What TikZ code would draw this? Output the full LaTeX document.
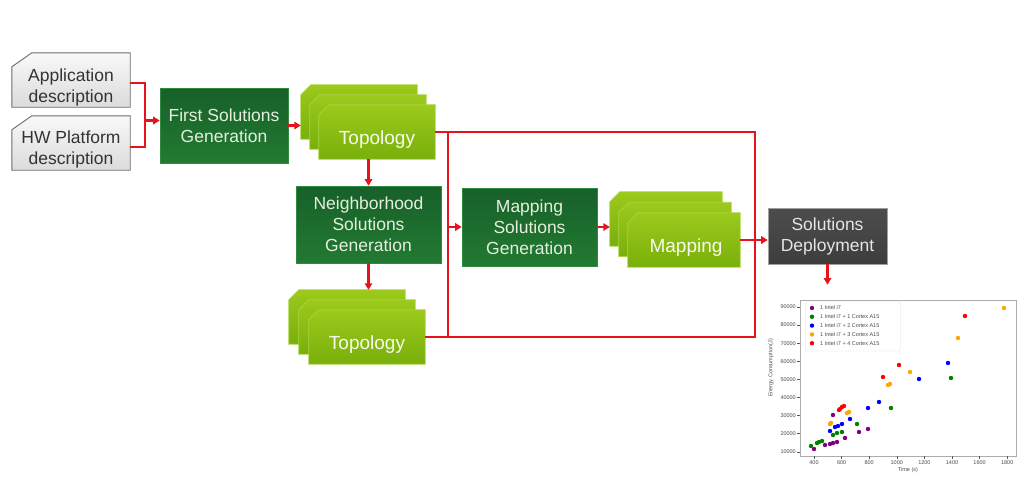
\documentclass[tikz,border=0pt]{standalone}
\usepackage{fontspec}
\setmainfont{Liberation Sans}
\usetikzlibrary{arrows.meta,calc}
\definecolor{dgA}{HTML}{17602A}
\definecolor{dgB}{HTML}{227A31}
\definecolor{dgE}{HTML}{2E8A3E}
\definecolor{lmA}{HTML}{9CCA1C}
\definecolor{lmB}{HTML}{79AF0B}
\definecolor{lmE}{HTML}{A9D443}
\definecolor{rd}{HTML}{E8121C}
\definecolor{gtx}{HTML}{E6EFDD}
\definecolor{mplpurple}{HTML}{800080}
\definecolor{mplgreen}{HTML}{008000}
\definecolor{mplblue}{HTML}{0000FF}
\definecolor{mplorange}{HTML}{FFA500}
\definecolor{mplred}{HTML}{FF0000}
\newcommand\chamferpath[4]{\path[#4] ([xshift=#2]#1.north west) -- (#1.north east) -- (#1.south east) -- (#1.south west) -- ([yshift=-#3]#1.north west) -- cycle;}
\begin{document}
\begin{tikzpicture}[x=1pt,y=-1pt,
  lbl/.style={font=\fontsize{17.5}{21}\selectfont, align=center, inner sep=0pt},
  shapeholder/.style={draw=none, fill=none, inner sep=0pt, minimum width=#1},
  greenbox/.style={draw=dgE, line width=0.6pt, top color=dgA, bottom color=dgB, text=gtx,
     font=\fontsize{17.5}{21}\selectfont, align=center, inner sep=0pt},
  docstyle/.style={draw=gray!85!black, line width=0.9pt, top color=gray!5, bottom color=gray!28},
  limestyle/.style={draw=lmE, line width=0.7pt, top color=lmA, bottom color=lmB},
  stacklbl/.style={font=\fontsize{19}{22}\selectfont, text=white!92!lmA, inner sep=0pt},
  conn/.style={draw=rd, line width=2.5pt},
  arr/.style={conn, -{Triangle[length=6.5pt,width=7.5pt]}},
  tick/.style={draw=gray!70!black, line width=0.5pt},
  ticklbl/.style={font=\fontsize{5.5}{6}\selectfont, text=gray!60!black, inner sep=1pt},
  dot/.style={circle, inner sep=0pt, minimum size=4.4pt}
]
\fill[white] (0,0) rectangle (1026,477);
\useasboundingbox (0,0) rectangle (1026,477);

% ---------- input documents ----------
\node[shapeholder=118pt, minimum height=54pt] (app) at (71,80) {};
\node[shapeholder=118pt, minimum height=54pt] (hw) at (71,143) {};
\chamferpath{app}{20pt}{14pt}{docstyle}
\chamferpath{hw}{20pt}{14pt}{docstyle}
\node[lbl, text=black!80] (apptxt) at (71,87) {Application\\description};
\node[lbl, text=black!80] (hwtxt) at (71,149) {HW Platform\\description};

% ---------- process boxes ----------
\node[greenbox, minimum width=128pt, minimum height=75pt] (fsg) at (224,125.5) {First Solutions\\Generation};
\node[greenbox, minimum width=145pt, minimum height=77pt] (nsg) at (368.5,224.5) {Neighborhood\\Solutions\\Generation};
\node[greenbox, minimum width=135pt, minimum height=78pt] (msg) at (529.5,227) {Mapping\\Solutions\\Generation};
\node[draw=gray!75, line width=0.6pt, top color=black!70, bottom color=black!76, text=white!90!black,
      font=\fontsize{17.5}{21}\selectfont, align=center, inner sep=0pt,
      minimum width=119pt, minimum height=56pt] (deploy) at (827.5,236) {Solutions\\Deployment};

% ---------- stacks ----------
% topology 1
\node[shapeholder=116pt, minimum height=54pt] (topo1c) at (359,112) {};
\node[shapeholder=116pt, minimum height=54pt] (topo1b) at (368,122) {};
\node[shapeholder=116pt, minimum height=54pt] (topo1) at (377,132) {};
\chamferpath{topo1c}{10pt}{10pt}{limestyle}
\chamferpath{topo1b}{10pt}{10pt}{limestyle}
\chamferpath{topo1}{10pt}{10pt}{limestyle}
\node[stacklbl] (topo1lbl) at ([yshift=-8pt]topo1.center) {Topology};
% topology 2
\node[shapeholder=116pt, minimum height=54pt] (topo2c) at (347,317) {};
\node[shapeholder=116pt, minimum height=54pt] (topo2b) at (357,327) {};
\node[shapeholder=116pt, minimum height=54pt] (topo2) at (367,337) {};
\chamferpath{topo2c}{10pt}{10pt}{limestyle}
\chamferpath{topo2b}{10pt}{10pt}{limestyle}
\chamferpath{topo2}{10pt}{10pt}{limestyle}
\node[stacklbl] (topo2lbl) at ([yshift=-8pt]topo2.center) {Topology};
% mapping
\node[shapeholder=112pt, minimum height=54pt] (mapc) at (666,219) {};
\node[shapeholder=112pt, minimum height=54pt] (mapb) at (675,229.5) {};
\node[shapeholder=112pt, minimum height=54pt] (map) at (684,240) {};
\chamferpath{mapc}{10pt}{10pt}{limestyle}
\chamferpath{mapb}{10pt}{10pt}{limestyle}
\chamferpath{map}{10pt}{10pt}{limestyle}
\node[stacklbl] (maplbl) at ([xshift=2pt,yshift=-8pt]map.center) {Mapping};

% ---------- connectors ----------
\coordinate (jin) at (145,0);
\coordinate (jloop) at (448,0);
\coordinate (jright) at (755,0);
\draw[conn] ([yshift=-3pt]app.east) -- ([yshift=-3pt]jin |- app.east) |- ([yshift=-4pt]hw.east);
\draw[arr] ([yshift=5pt]jin |- fsg.west) -- ([yshift=5pt]fsg.west);
\draw[arr] (fsg.east) -- (fsg.east -| topo1c.west);
\draw[arr] (nsg.north |- topo1.south) -- (nsg.north);
\draw[arr] (nsg.south) -- (nsg.south |- topo2c.north);
\draw[conn] (topo1.east) -- (jright |- topo1.east) -- (jright |- topo2.east) -- (topo2.east);
\draw[conn] (jloop |- topo1.east) -- (jloop |- topo2.east);
\draw[arr] (jloop |- msg.west) -- (msg.west);
\draw[arr] (msg.east) -- (msg.east -| mapc.west);
\draw[arr] (map.east) -- (map.east -| deploy.west);

% ---------- chart ----------
\node[draw=gray!65, line width=0.8pt, fill=white, inner sep=0pt, minimum width=216pt, minimum height=156pt] (chart) at (908,378) {};
\draw[arr] (deploy.south) -- ([yshift=15pt]deploy.south |- chart.north);
\foreach \v [count=\k from 0] in {90000,80000,70000,60000,50000,40000,30000,20000,10000} {
  \draw[tick] (797,307+18.1*\k) -- (800,307+18.1*\k);
  \node[ticklbl, anchor=east] (yt\k) at (797,307+18.1*\k) {\v};
}
\foreach \v [count=\k from 0] in {400,600,800,1000,1200,1400,1600,1800} {
  \draw[tick] (814+27.6*\k,456) -- (814+27.6*\k,459);
  \node[ticklbl, anchor=north] (xt\k) at (814+27.6*\k,459) {\v};
}
\node[ticklbl, rotate=90] (ylab) at (771,368) {Energy Consumption(J)};
\node[ticklbl] (xlab) at (908,470) {Time (s)};
% legend
\node[draw=gray!25, rounded corners=1.5pt, fill=white, inner sep=0pt, minimum width=95pt, minimum height=49pt] (legend) at (853,326.5) {};
\foreach \c/\t [count=\k from 0] in {mplpurple/1 Intel i7, mplgreen/1 Intel i7 + 1 Cortex A15, mplblue/1 Intel i7 + 2 Cortex A15, mplorange/1 Intel i7 + 3 Cortex A15, mplred/1 Intel i7 + 4 Cortex A15} {
  \node[dot, fill=\c] (ld\k) at (812,308+8.8*\k) {};
  \node[ticklbl, anchor=west] (lt\k) at (819,308+8.8*\k) {\t};
}
% data
\foreach \p in {(814,449),(825,445),(830,444),(833,443),(837,442),(845,438),(859,432),(868,429),(833,415)}
  \fill[mplpurple] \p circle (2.2);
\foreach \p in {(811,446),(817,443),(819,442),(822,441),(833,435),(837,433),(842,432),(857,424),(891,408),(951,378)}
  \fill[mplgreen] \p circle (2.2);
\foreach \p in {(830,431),(835,427),(838,426),(842,424),(850,419),(868,408),(879,402),(919,379),(948,363)}
  \fill[mplblue] \p circle (2.2);
\foreach \p in {(830,424),(831,423),(847,413),(849,412),(888,385),(890,384),(910,372),(958,338),(1004,308)}
  \fill[mplorange] \p circle (2.2);
\foreach \p in {(839,410),(840,409),(842,407),(844,406),(883,377),(899,365),(965,316)}
  \fill[mplred] \p circle (2.2);
\end{tikzpicture}
\end{document}
